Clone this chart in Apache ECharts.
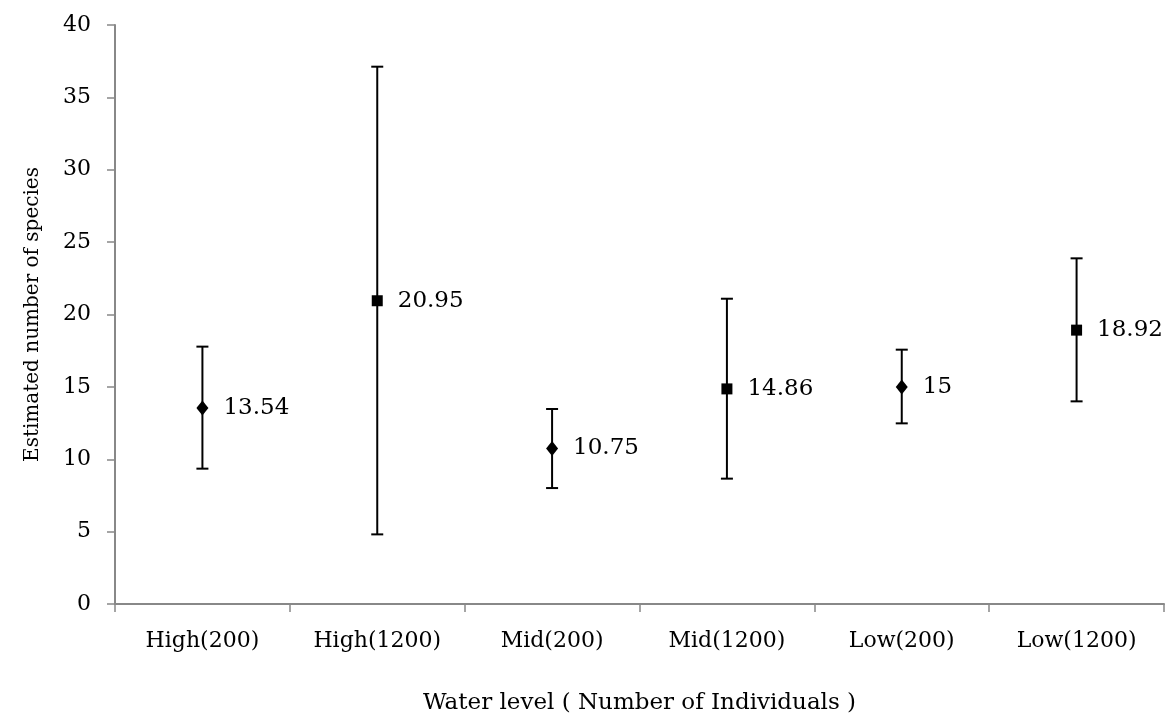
<!DOCTYPE html>
<html>
<head>
<meta charset="utf-8">
<script src="https://cdn.jsdelivr.net/npm/echarts@6/dist/echarts.min.js"></script>
<style>
  html, body { margin: 0; padding: 0; background: #fff; }
  #chart { width: 1166px; height: 717px; }
</style>
</head>
<body>
<div id="chart"></div>
<script>
const categories = ['High(200)', 'High(1200)', 'Mid(200)', 'Mid(1200)', 'Low(200)', 'Low(1200)'];
const means = [13.54, 20.95, 10.75, 14.86, 15, 18.92];
const lowerBounds = [9.35, 4.81, 8.01, 8.66, 12.48, 14.0];
const upperBounds = [17.78, 37.12, 13.47, 21.09, 17.57, 23.88];
const symbols = ['diamond', 'rect', 'diamond', 'rect', 'diamond', 'rect'];

const fontFamily = 'DejaVu Serif';

const chart = echarts.init(document.getElementById('chart'));

const pointData = means.map((v, i) => ({
  value: [i, v],
  symbol: symbols[i],
  symbolSize: symbols[i] === 'diamond' ? [12, 15] : 11
}));

const errorData = categories.map((c, i) => [i, lowerBounds[i], upperBounds[i]]);

const option = {
  animation: false,
  grid: {
    left: 115,
    right: 2,
    top: 25,
    bottom: 113,
    containLabel: false,
    outerBoundsMode: 'none'
  },
  xAxis: {
    type: 'category',
    data: categories,
    boundaryGap: true,
    name: 'Water level ( Number of Individuals )',
    nameLocation: 'middle',
    nameGap: 88,
    nameTextStyle: { fontFamily, fontSize: 23, color: '#000' },
    axisLine: { lineStyle: { color: '#888', width: 2 } },
    axisTick: { show: true, length: 8, alignWithLabel: false, lineStyle: { color: '#888', width: 1.5 } },
    axisLabel: { fontFamily, fontSize: 22, color: '#000', margin: 26, interval: 0 },
    splitLine: { show: false }
  },
  yAxis: {
    type: 'value',
    min: 0,
    max: 40,
    interval: 5,
    name: 'Estimated number of species',
    nameLocation: 'middle',
    nameGap: 72,
    nameTextStyle: { fontFamily, fontSize: 20, color: '#000' },
    axisLine: { show: true, lineStyle: { color: '#888', width: 2 } },
    axisTick: { show: true, length: 8, lineStyle: { color: '#888', width: 1.5 } },
    axisLabel: { fontFamily, fontSize: 22, color: '#000', margin: 24 },
    splitLine: { show: false }
  },
  series: [
    {
      type: 'custom',
      data: errorData,
      z: 2,
      renderItem: function (params, api) {
        const x = api.value(0);
        const lo = api.coord([x, api.value(1)]);
        const hi = api.coord([x, api.value(2)]);
        const cap = 6;
        const style = { stroke: '#000', lineWidth: 2 };
        return {
          type: 'group',
          children: [
            { type: 'line', shape: { x1: lo[0], y1: lo[1], x2: hi[0], y2: hi[1] }, style },
            { type: 'line', shape: { x1: hi[0] - cap, y1: hi[1], x2: hi[0] + cap, y2: hi[1] }, style },
            { type: 'line', shape: { x1: lo[0] - cap, y1: lo[1], x2: lo[0] + cap, y2: lo[1] }, style }
          ]
        };
      }
    },
    {
      type: 'scatter',
      data: pointData,
      z: 3,
      itemStyle: { color: '#000', opacity: 1 },
      label: {
        show: true,
        position: 'right',
        distance: 15,
        fontFamily,
        fontSize: 23,
        color: '#000',
        formatter: p => String(p.value[1])
      }
    }
  ]
};

chart.setOption(option);
</script>
</body>
</html>
